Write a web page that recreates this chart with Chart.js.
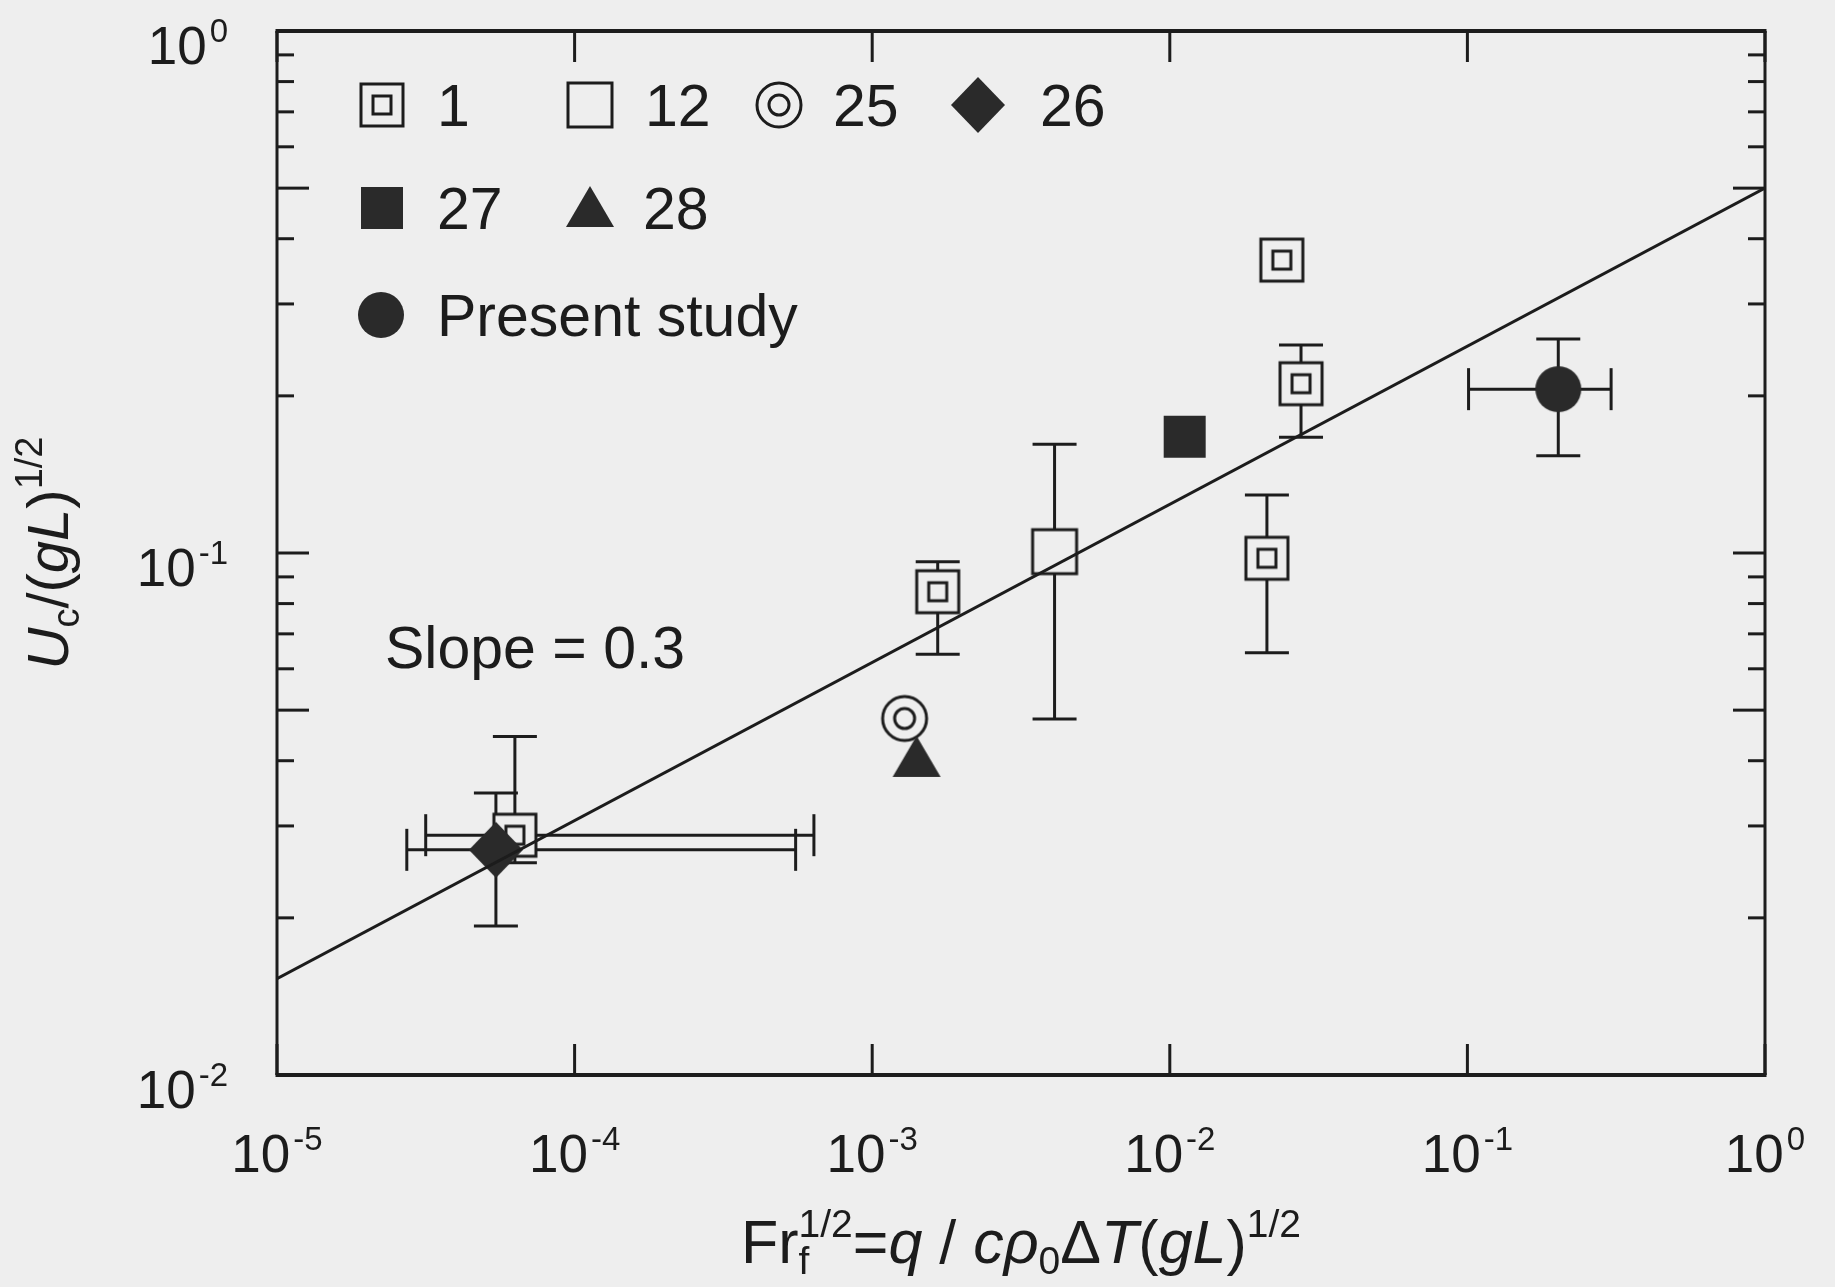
<!DOCTYPE html>
<html>
<head>
<meta charset="utf-8">
<title>Uc vs Fr</title>
<script src="https://cdn.jsdelivr.net/npm/chart.js@4.4.1/dist/chart.umd.min.js"></script>
<style>
  html, body { margin: 0; padding: 0; background: #eeeeee; }
  canvas { display: block; }
</style>
</head>
<body>
<canvas id="myChart" width="1835" height="1287"></canvas>
<script>
'use strict'

// tick values for the two log axes
const xTicks = [1e-5, 1e-4, 1e-3, 1e-2, 1e-1, 1];
const xTickExp = ['-5', '-4', '-3', '-2', '-1', '0'];
const yTicks = [1e-2, 1e-1, 1];
const yTickExp = ['-2', '-1', '0'];
const yMinorTicks = [0.02, 0.03, 0.04, 0.05, 0.06, 0.07, 0.08, 0.09, 0.2, 0.3, 0.4, 0.5, 0.6, 0.7, 0.8, 0.9];
const yLongTicks = [0.05, 0.5];

// ref 1 (double square)
const ref1X = [0.0238, 0.0276, 0.0212, 0.00166, 6.3e-5];
const ref1Y = [0.364, 0.211, 0.0977, 0.0843, 0.0288];
const ref1YLow = [null, 0.1666, 0.0644, 0.0640, 0.0255];
const ref1YHigh = [null, 0.2503, 0.1292, 0.0962, 0.0445];
const ref1XLow = [null, null, null, null, 3.16e-5];
const ref1XHigh = [null, null, null, null, 6.37e-4];

// ref 12 (open square)
const ref12X = [0.0041];
const ref12Y = [0.1006];
const ref12YLow = [0.0481];
const ref12YHigh = [0.1615];

// ref 25 (double circle)
const ref25X = [0.001285];
const ref25Y = [0.0482];

// ref 26 (diamond)
const ref26X = [5.44e-5];
const ref26Y = [0.0270];
const ref26YLow = [0.0193];
const ref26YHigh = [0.0347];
const ref26XLow = [2.73e-5];
const ref26XHigh = [5.53e-4];

// ref 27 (filled square)
const ref27X = [0.01122];
const ref27Y = [0.167];

// ref 28 (triangle)
const ref28X = [0.00141];
const ref28Y = [0.0405];

// present study (filled circle)
const presentX = [0.202];
const presentY = [0.206];
const presentYLow = [0.1536];
const presentYHigh = [0.257];
const presentXLow = [0.1009];
const presentXHigh = [0.304];

// slope 0.3 fit line, end points read at the frame
const fitX = [1e-5, 1];
const fitY = [0.0153, 0.5];

const BG = '#eeeeee';
const INK = '#1c1c1c';
const FILL = '#2a2a2a';
const FONT = '"Liberation Sans", Arial, Helvetica, sans-serif';

function font(size, italic) {
  return (italic ? 'italic ' : '') + size + 'px ' + FONT;
}

// packs the value arrays into point objects, error limits ride along
function toPoints(xs, ys, yLo, yHi, xLo, xHi) {
  return xs.map((v, i) => ({
    x: v,
    y: ys[i],
    yLo: yLo ? yLo[i] : null,
    yHi: yHi ? yHi[i] : null,
    xLo: xLo ? xLo[i] : null,
    xHi: xHi ? xHi[i] : null
  }));
}

// marker images used as pointStyle
function makeMarker(kind) {
  const c = document.createElement('canvas');
  c.width = 62;
  c.height = 62;
  const g = c.getContext('2d');
  g.translate(31, 31);
  g.lineWidth = 3;
  g.strokeStyle = INK;
  g.fillStyle = BG;
  if (kind === 'dblSquare') {
    g.fillRect(-21, -21, 42, 42);
    g.strokeRect(-21, -21, 42, 42);
    g.strokeRect(-9, -9, 18, 18);
  } else if (kind === 'square') {
    g.fillRect(-22, -22, 44, 44);
    g.strokeRect(-22, -22, 44, 44);
  } else if (kind === 'dblCircle') {
    g.beginPath();
    g.arc(0, 0, 22, 0, Math.PI * 2);
    g.fill();
    g.stroke();
    g.beginPath();
    g.arc(0, 0, 10, 0, Math.PI * 2);
    g.stroke();
  } else if (kind === 'diamond') {
    g.fillStyle = FILL;
    g.beginPath();
    g.moveTo(0, -28);
    g.lineTo(27, 0);
    g.lineTo(0, 28);
    g.lineTo(-27, 0);
    g.closePath();
    g.fill();
  } else if (kind === 'fillSquare') {
    g.fillStyle = FILL;
    g.fillRect(-21, -21, 42, 42);
  } else if (kind === 'triangle') {
    g.fillStyle = FILL;
    g.beginPath();
    g.moveTo(0, -22);
    g.lineTo(24, 19);
    g.lineTo(-24, 19);
    g.closePath();
    g.fill();
  } else if (kind === 'dot') {
    g.fillStyle = FILL;
    g.beginPath();
    g.arc(0, 0, 23, 0, Math.PI * 2);
    g.fill();
  }
  return c;
}

// rich text: parts with italic / sub / sup, "hold" keeps x for a stacked sub+sup
function layoutRich(ctx, parts, big, small) {
  let x = 0;
  let held = 0;
  const items = [];
  parts.forEach(p => {
    ctx.font = font(p.sub || p.sup ? small : big, p.it);
    const w = ctx.measureText(p.t).width;
    items.push({ p: p, x: x });
    if (p.hold) {
      held = w;
    } else {
      x += Math.max(w, held);
      held = 0;
    }
  });
  return { items: items, width: x };
}

function drawRich(ctx, parts, cx, base, big, small) {
  const lay = layoutRich(ctx, parts, big, small);
  const left = cx - lay.width / 2;
  ctx.textAlign = 'left';
  ctx.textBaseline = 'alphabetic';
  lay.items.forEach(it => {
    const p = it.p;
    ctx.font = font(p.sub || p.sup ? small : big, p.it);
    let dy = 0;
    if (p.sub) dy = 11;
    if (p.sup) dy = -26;
    ctx.fillText(p.t, left + it.x, base + dy);
  });
}

// "10" with a raised exponent
function drawPower(ctx, exp, x, base, align) {
  ctx.textAlign = 'left';
  ctx.textBaseline = 'alphabetic';
  ctx.font = font(53);
  const w1 = ctx.measureText('10').width;
  ctx.font = font(33);
  const w2 = ctx.measureText(exp).width;
  const total = w1 + 3 + w2;
  const left = align === 'right' ? x - total : x - total / 2;
  ctx.font = font(53);
  ctx.fillText('10', left, base);
  ctx.font = font(33);
  ctx.fillText(exp, left + w1 + 3, base - 22);
}

const markers = {
  dblSquare: makeMarker('dblSquare'),
  square: makeMarker('square'),
  dblCircle: makeMarker('dblCircle'),
  diamond: makeMarker('diamond'),
  fillSquare: makeMarker('fillSquare'),
  triangle: makeMarker('triangle'),
  dot: makeMarker('dot')
};

// frame, inward ticks and error bars, under the markers
const frameAndBars = {
  id: 'frameAndBars',
  beforeDatasetsDraw(chart) {
    const ctx = chart.ctx;
    const a = chart.chartArea;
    const xs = chart.scales.x;
    const ys = chart.scales.y;
    ctx.save();
    ctx.strokeStyle = INK;
    ctx.lineCap = 'butt';

    function seg(x1, y1, x2, y2) {
      ctx.beginPath();
      ctx.moveTo(x1, y1);
      ctx.lineTo(x2, y2);
      ctx.stroke();
    }

    ctx.lineWidth = 3;
    xTicks.forEach(v => {
      const px = xs.getPixelForValue(v);
      seg(px, a.bottom, px, a.bottom - 31);
      seg(px, a.top, px, a.top + 31);
    });
    yTicks.concat(yMinorTicks).forEach(v => {
      const py = ys.getPixelForValue(v);
      const len = (yTicks.includes(v) || yLongTicks.includes(v)) ? 32 : 17;
      seg(a.left, py, a.left + len, py);
      seg(a.right, py, a.right - len, py);
    });

    // frame
    ctx.lineWidth = 4;
    seg(a.left - 1.5, a.top, a.right + 1.5, a.top);
    seg(a.left - 1.5, a.bottom, a.right + 1.5, a.bottom);
    ctx.lineWidth = 3;
    seg(a.left, a.top, a.left, a.bottom);
    seg(a.right, a.top, a.right, a.bottom);

    // error bars
    ctx.lineWidth = 3;
    chart.data.datasets.forEach(ds => {
      ds.data.forEach(p => {
        const px = xs.getPixelForValue(p.x);
        const py = ys.getPixelForValue(p.y);
        if (p.yLo != null && p.yHi != null) {
          const lo = ys.getPixelForValue(p.yLo);
          const hi = ys.getPixelForValue(p.yHi);
          seg(px, lo, px, hi);
          seg(px - 22, lo, px + 22, lo);
          seg(px - 22, hi, px + 22, hi);
        }
        if (p.xLo != null && p.xHi != null) {
          const lo = xs.getPixelForValue(p.xLo);
          const hi = xs.getPixelForValue(p.xHi);
          seg(lo, py, hi, py);
          seg(lo, py - 21, lo, py + 21);
          seg(hi, py - 21, hi, py + 21);
        }
      });
    });
    ctx.restore();
  }
};

// tick labels, axis titles, slope note and the legend block
const textLayer = {
  id: 'textLayer',
  afterDraw(chart) {
    const ctx = chart.ctx;
    const a = chart.chartArea;
    const xs = chart.scales.x;
    const ys = chart.scales.y;
    ctx.save();
    ctx.fillStyle = INK;

    xTicks.forEach((v, i) => {
      drawPower(ctx, xTickExp[i], xs.getPixelForValue(v), a.bottom + 97, 'center');
    });
    yTicks.forEach((v, i) => {
      drawPower(ctx, yTickExp[i], 228, ys.getPixelForValue(v) + 33, 'right');
    });

    // x title
    drawRich(ctx, [
      { t: 'Fr' },
      { t: 'f', sub: true, hold: true },
      { t: '1/2', sup: true },
      { t: '=' },
      { t: 'q', it: true },
      { t: ' / ' },
      { t: 'c', it: true },
      { t: 'ρ', it: true },
      { t: '0', sub: true },
      { t: 'Δ' },
      { t: 'T', it: true },
      { t: '(' },
      { t: 'g', it: true },
      { t: 'L', it: true },
      { t: ')' },
      { t: '1/2', sup: true }
    ], 1021, 1263, 61, 39);

    // y title, rotated
    ctx.save();
    ctx.translate(68, 553);
    ctx.rotate(-Math.PI / 2);
    drawRich(ctx, [
      { t: 'U', it: true },
      { t: 'c', sub: true },
      { t: '/(' },
      { t: 'g', it: true },
      { t: 'L', it: true },
      { t: ')' },
      { t: '1/2', sup: true }
    ], 0, 0, 58, 38);
    ctx.restore();

    // slope note
    ctx.font = font(59);
    ctx.textAlign = 'left';
    ctx.fillText('Slope = 0.3', 385, 668);

    // legend grid
    const slots = [
      [382, 105, 437], [590, 105, 645], [779, 105, 833], [978, 105, 1040],
      [382, 208, 437], [590, 208, 643],
      [381, 315, 437]
    ];
    let k = 0;
    chart.data.datasets.forEach(ds => {
      if (ds.isFit) return;
      const s = slots[k++];
      const img = ds.pointStyle;
      ctx.drawImage(img, s[0] - img.width / 2, s[1] - img.height / 2);
      ctx.font = font(59);
      ctx.fillText(ds.label, s[2], s[1] + 21);
    });
    ctx.restore();
  }
};

function markerSet(label, pts, style, order) {
  return {
    label: label,
    data: pts,
    pointStyle: style,
    pointRadius: 24,
    showLine: false,
    order: order
  };
}

let canvasChart = document.getElementById('myChart');
const myChart = new Chart(canvasChart, {
  type: 'scatter',
  data: {
    datasets: [
      markerSet('1', toPoints(ref1X, ref1Y, ref1YLow, ref1YHigh, ref1XLow, ref1XHigh), markers.dblSquare, 3),
      markerSet('12', toPoints(ref12X, ref12Y, ref12YLow, ref12YHigh), markers.square, 3),
      markerSet('25', toPoints(ref25X, ref25Y), markers.dblCircle, 3),
      markerSet('26', toPoints(ref26X, ref26Y, ref26YLow, ref26YHigh, ref26XLow, ref26XHigh), markers.diamond, 1),
      markerSet('27', toPoints(ref27X, ref27Y), markers.fillSquare, 2),
      markerSet('28', toPoints(ref28X, ref28Y), markers.triangle, 2),
      markerSet('Present study', toPoints(presentX, presentY, presentYLow, presentYHigh, presentXLow, presentXHigh), markers.dot, 2),
      {
        label: 'fit',
        isFit: true,
        data: toPoints(fitX, fitY),
        showLine: true,
        pointRadius: 0,
        borderColor: INK,
        borderWidth: 3,
        order: 0
      }
    ]
  },
  options: {
    responsive: false,
    animation: false,
    devicePixelRatio: 1,
    events: [],
    layout: { padding: { left: 277, top: 31, right: 70, bottom: 212 } },
    scales: {
      x: { type: 'logarithmic', min: 1e-5, max: 1, display: false },
      y: { type: 'logarithmic', min: 1e-2, max: 1, display: false }
    },
    plugins: {
      legend: { display: false },
      tooltip: { enabled: false }
    }
  },
  plugins: [frameAndBars, textLayer]
});
</script>
</body>
</html>
